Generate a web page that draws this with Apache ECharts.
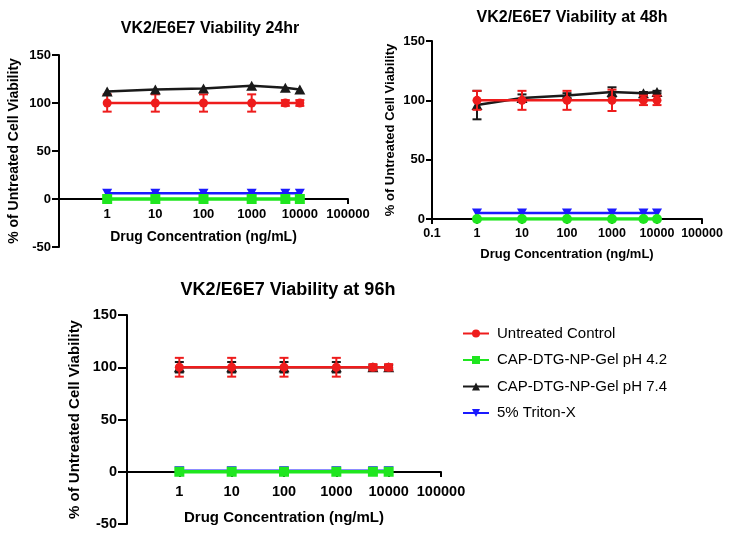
<!DOCTYPE html>
<html><head><meta charset="utf-8">
<script src="https://cdn.jsdelivr.net/npm/echarts@6/dist/echarts.min.js"></script>
<style>html,body{margin:0;padding:0;background:#fff}#c{width:731px;height:542px}</style>
</head><body><div id="c"></div>
<script>
// ---- data ----
const conc = [1, 10, 100, 1000, 5000, 10000];
const xTicks = ['0.1','1','10','100','1000','10000','100000'];
const seriesNames = ['Untreated Control','CAP-DTG-NP-Gel pH 4.2','CAP-DTG-NP-Gel pH 7.4','5% Triton-X'];
const titles = ['VK2/E6E7 Viability 24hr','VK2/E6E7 Viability at 48h','VK2/E6E7 Viability at 96h'];

// 24 hr
const ctrl24 = [100,100,100,100,100,100];
const ctrl24Err = [9,9,9,9,3,3];
const ph42_24 = [0,0,0,0,0,0];
const ph74_24 = [112,114,115,118,116,114];
const triton24 = [6,6,6,6,6,6];
// 48 h
const ctrl48 = [100,100,100,100,100,100];
const ctrl48Err = [8,8,8,9,4,4];
const ph42_48 = [0,0,0,0,0,0];
const ph74_48 = [96,102,104,107,106,107];
const ph74_48Err = [12,3,2,4,1,1];
const triton48 = [5,5,5,5,5,5];
// 96 h
const ctrl96 = [100,100,100,100,100,100];
const ctrl96Err = [9,9,9,9,3,3];
const ph42_96 = [0,0,0,0,0,0];
const ph74_96 = [100,100,100,100,100,100];
const ph74_96Err = [5,5,5,5,2,2];
const triton96 = [1,1,1,1,1,1];

// ---- styling ----
const FONT = '"Liberation Sans", Arial, Helvetica, sans-serif';
const RED = '#ee1c1c', GREEN = '#1fe61f', BLACK = '#1a1a1a', BLUE = '#1a1aff';
const DOWN = 'path://M0,0 L10,0 L5,9 Z';

const panels = [
  {grid:{left:59, top:55, width:289, height:192}, ymin:-50, xOffset:-48, yfont:13, xfont:13, namefont:14, xgap:31, ygap:38, xmargin:9, ytick:7, hideMin:true,
   ctrl:ctrl24, ctrlErr:ctrl24Err, g:ph42_24, gSym:'rect', b:ph74_24, bErr:null, t:triton24, redTop:false,
   title:{x:205, y:16, size:16}},
  {grid:{left:432, top:41, width:270, height:178}, ymin:0, xOffset:0, yfont:13, xfont:12.5, namefont:13, xgap:29, ygap:35, xmargin:8, ytick:6, hideMin:false,
   ctrl:ctrl48, ctrlErr:ctrl48Err, g:ph42_48, gSym:'circle', b:ph74_48, bErr:ph74_48Err, t:triton48, redTop:true,
   title:{x:567, y:5, size:16}},
  {grid:{left:127, top:315, width:314, height:209}, ymin:-50, xOffset:-52, yfont:14.5, xfont:14.5, namefont:15, xgap:38, ygap:45, xmargin:12, ytick:9, hideMin:true,
   ctrl:ctrl96, ctrlErr:ctrl96Err, g:ph42_96, gSym:'rect', b:ph74_96, bErr:ph74_96Err, t:triton96, redTop:true,
   title:{x:283, y:276, size:18}}
];

function pairs(ys){ return conc.map((x,i)=>[x, ys[i]]); }
function errData(ys, es){ return conc.map((x,i)=>[x, ys[i], es[i]]); }
function errSeries(idx, ys, es, color, z){
  return {
    type:'custom', xAxisIndex:idx, yAxisIndex:idx, z:z, silent:true,
    encode:{x:0, y:1},
    data: errData(ys, es),
    renderItem: function(params, api){
      const x = api.value(0), y = api.value(1), e = api.value(2);
      const top = api.coord([x, y + e]);
      const bot = api.coord([x, y - e]);
      const hw = 4.5;
      const st = {stroke: color, lineWidth: 2};
      return {type:'group', children:[
        {type:'line', shape:{x1:top[0], y1:top[1], x2:bot[0], y2:bot[1]}, style:st},
        {type:'line', shape:{x1:top[0]-hw, y1:top[1], x2:top[0]+hw, y2:top[1]}, style:st},
        {type:'line', shape:{x1:bot[0]-hw, y1:bot[1], x2:bot[0]+hw, y2:bot[1]}, style:st}
      ]};
    }
  };
}

const grids = [], xAxes = [], yAxes = [], series = [], titleOpts = [];
panels.forEach((p, i) => {
  grids.push(p.grid);
  titleOpts.push({text: titles[i], left: p.title.x, top: p.title.y, textAlign:'center',
    textStyle:{fontFamily:FONT, fontWeight:'bold', fontSize:p.title.size, color:'#000'}});
  xAxes.push({
    type:'log', logBase:10, gridIndex:i, min:0.1, max:100000, interval:1, offset:p.xOffset,
    name:'Drug Concentration (ng/mL)', nameLocation:'middle', nameGap:p.xgap,
    nameTextStyle:{fontFamily:FONT, fontWeight:'bold', fontSize:p.namefont, color:'#000'},
    axisLine:{onZero:false, lineStyle:{color:'#000', width:2}},
    axisTick:{show:true, length:5, lineStyle:{color:'#000', width:2}},
    axisLabel:{fontFamily:FONT, fontWeight:'bold', fontSize:p.xfont, color:'#000', margin:p.xmargin,
      showMinLabel: !p.hideMin,
      formatter: function(v){ const k = Math.round(Math.log10(v)) + 1; return xTicks[k] !== undefined ? xTicks[k] : ''; }},
    splitLine:{show:false}, minorTick:{show:false}
  });
  yAxes.push({
    type:'value', gridIndex:i, min:p.ymin, max:150, interval:50,
    name:'% of Untreated Cell Viability', nameLocation:'middle', nameGap:p.ygap,
    nameTextStyle:{fontFamily:FONT, fontWeight:'bold', fontSize:p.namefont, color:'#000'},
    axisLine:{show:true, onZero:false, lineStyle:{color:'#000', width:2}},
    axisTick:{show:true, length:p.ytick, lineStyle:{color:'#000', width:2}},
    axisLabel:{fontFamily:FONT, fontWeight:'bold', fontSize:p.yfont, color:'#000', margin:p.ytick + 1},
    splitLine:{show:false}
  });
  const redZ = p.redTop ? 6 : 3;
  const blackZ = p.redTop ? 3 : 6;
  series.push({name:seriesNames[3], type:'line', xAxisIndex:i, yAxisIndex:i, data:pairs(p.t), z:2,
    symbol:DOWN, symbolSize:[10,9], lineStyle:{color:BLUE, width:2.5}, itemStyle:{color:BLUE}, animation:false});
  series.push({name:seriesNames[1], type:'line', xAxisIndex:i, yAxisIndex:i, data:pairs(p.g), z:4,
    symbol:p.gSym, symbolSize:10, lineStyle:{color:GREEN, width:3.5}, itemStyle:{color:GREEN}, animation:false});
  if (p.bErr) series.push(errSeries(i, p.b, p.bErr, BLACK, blackZ));
  series.push({name:seriesNames[2], type:'line', xAxisIndex:i, yAxisIndex:i, data:pairs(p.b), z:blackZ,
    symbol:'triangle', symbolSize:[11,10], lineStyle:{color:BLACK, width:2.5}, itemStyle:{color:BLACK}, animation:false});
  series.push(errSeries(i, p.ctrl, p.ctrlErr, RED, redZ));
  series.push({name:seriesNames[0], type:'line', xAxisIndex:i, yAxisIndex:i, data:pairs(p.ctrl), z:redZ,
    symbol:'circle', symbolSize:9, lineStyle:{color:RED, width:2.5}, itemStyle:{color:RED}, animation:false});
});

const chart = echarts.init(document.getElementById('c'), null, {renderer:'canvas'});
chart.setOption({
  backgroundColor:'#fff',
  animation:false,
  title: titleOpts,
  grid: grids,
  xAxis: xAxes,
  yAxis: yAxes,
  legend: {
    data: seriesNames, orient:'vertical', left:457, top:321,
    itemWidth:26, itemHeight:10, itemGap:11.5, selectedMode:false,
    textStyle:{fontFamily:FONT, fontSize:15, color:'#000', padding:[0,0,0,3]}
  },
  series: series
});
</script></body></html>
